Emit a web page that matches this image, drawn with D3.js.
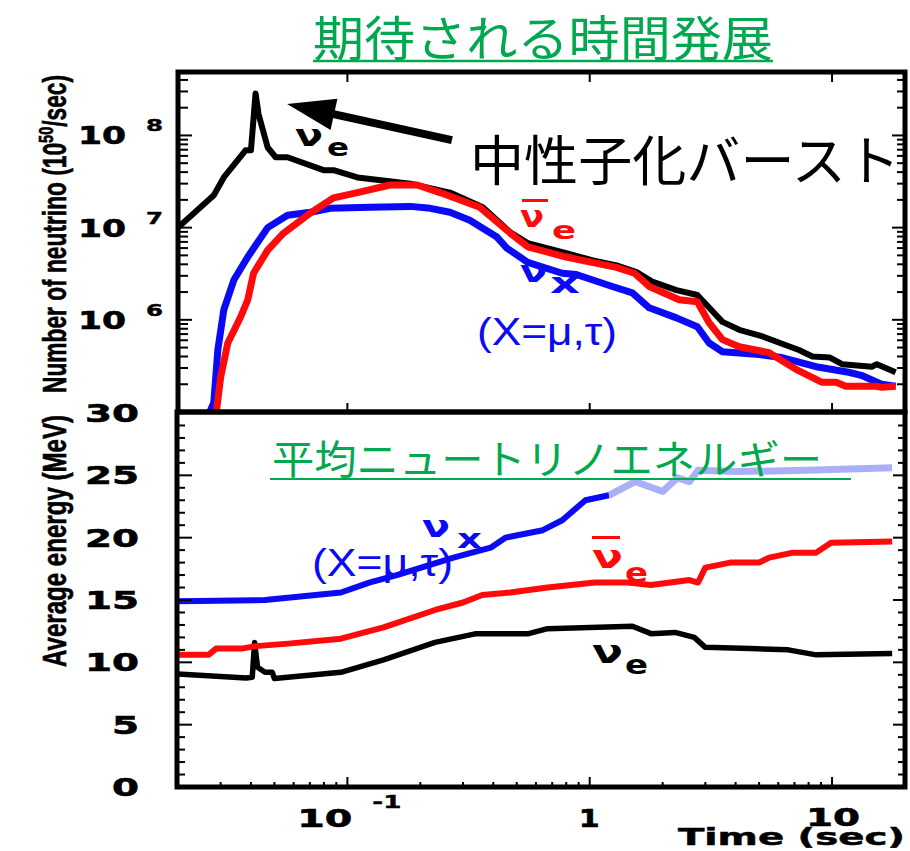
<!DOCTYPE html>
<html><head><meta charset="utf-8">
<script src="https://cdn.jsdelivr.net/npm/d3@7"></script>
<style>body{margin:0;background:#fff}</style>
</head><body><svg id="c" width="910" height="851"></svg>
<script>
// ---------------- data ----------------
// Upper panel: number luminosity (10^50 /sec) vs time (sec)
const numNueT = [0.02, 0.0281, 0.0309, 0.038, 0.040, 0.0418, 0.043, 0.0469, 0.0506, 0.0566, 0.0797, 0.0876, 0.11, 0.146, 0.182, 0.265, 0.362, 0.47, 0.555, 0.80, 1.03, 1.29, 1.56, 1.81, 2.28, 2.78, 3.53, 4.14, 5.17, 7.3, 8.3, 9.8, 11.0, 14.6, 15.3, 18.3];
const numNueV = [1.0e7, 2.24e7, 3.5e7, 6.9e7, 6.9e7, 2.85e8, 1.7e8, 7.4e7, 5.8e7, 5.8e7, 4.2e7, 4.2e7, 3.5e7, 3.2e7, 3.0e7, 2.4e7, 1.66e7, 8.9e6, 6.8e6, 5.3e6, 4.4e6, 3.9e6, 3.3e6, 2.6e6, 2.1e6, 1.86e6, 9.5e5, 7.8e5, 6.6e5, 4.7e5, 4.0e5, 3.9e5, 3.3e5, 3.1e5, 3.3e5, 2.7e5];
const numNuebT = [0.0285, 0.0300, 0.0321, 0.0363, 0.0388, 0.041, 0.0469, 0.0545, 0.0704, 0.0876, 0.11, 0.15, 0.194, 0.241, 0.352, 0.47, 0.555, 0.80, 1.29, 1.53, 1.76, 2.34, 2.78, 3.11, 3.53, 4.14, 5.5, 7.1, 9.1, 10.4, 11.4, 15.2, 16.0, 18.3];
const numNuebV = [8e4, 2.4e5, 5.6e5, 1.08e6, 1.65e6, 3.2e6, 5.7e6, 8.7e6, 1.44e7, 2.1e7, 2.4e7, 2.9e7, 2.9e7, 2.4e7, 1.66e7, 8.7e6, 6.2e6, 4.8e6, 3.7e6, 3.2e6, 2.3e6, 1.65e6, 1.57e6, 9.3e5, 6.1e5, 5.1e5, 4.4e5, 2.9e5, 2.1e5, 2.1e5, 1.9e5, 1.9e5, 1.85e5, 1.9e5];
const numNuxT = [0.0266, 0.0281, 0.0292, 0.0309, 0.034, 0.0388, 0.0469, 0.0566, 0.0704, 0.085, 0.124, 0.182, 0.22, 0.265, 0.32, 0.414, 0.455, 0.555, 0.77, 0.88, 1.24, 1.5, 1.76, 2.28, 2.78, 3.11, 3.53, 5.0, 6.2, 8.6, 11.7, 13.2, 16, 18.3];
const numNuxV = [9e4, 1.26e5, 4.7e5, 1.28e6, 2.7e6, 4.8e6, 1.0e7, 1.36e7, 1.47e7, 1.62e7, 1.66e7, 1.7e7, 1.62e7, 1.47e7, 1.2e7, 7.9e6, 6.0e6, 4.2e6, 3.2e6, 3.1e6, 2.3e6, 1.96e6, 1.35e6, 1.05e6, 8.4e5, 5.6e5, 4.5e5, 4.2e5, 3.9e5, 3.1e5, 2.7e5, 2.5e5, 2.0e5, 1.9e5];

// Lower panel: average energy (MeV) vs time (sec)
const eNuxT = [0.02, 0.0457, 0.094, 0.123, 0.16, 0.274, 0.39, 0.449, 0.64, 0.77, 0.96, 1.2];
const eNuxV = [14.9, 15.0, 15.6, 16.4, 17.0, 18.4, 19.2, 20.0, 20.6, 21.4, 23.0, 23.4];
const eNuxLateT = [1.2, 1.54, 2.0, 2.3, 2.58, 2.8, 4.0, 7.9, 17.7];
const eNuxLateV = [23.4, 24.5, 23.7, 24.8, 24.5, 25.4, 25.3, 25.4, 25.6];
const eNuebT = [0.02, 0.0268, 0.0287, 0.0366, 0.0418, 0.057, 0.094, 0.141, 0.23, 0.3, 0.36, 0.47, 0.67, 1.05, 1.43, 1.79, 2.58, 2.8, 3.0, 3.8, 5.0, 5.5, 6.9, 8.6, 9.9, 17.7];
const eNuebV = [10.6, 10.6, 11.1, 11.1, 11.3, 11.5, 11.9, 12.8, 14.2, 14.8, 15.4, 15.6, 16.0, 16.4, 16.4, 16.2, 16.6, 16.4, 17.6, 18.0, 18.0, 18.4, 18.8, 18.8, 19.6, 19.7];
const eNueT = [0.02, 0.0382, 0.0405, 0.0414, 0.0426, 0.0457, 0.049, 0.050, 0.094, 0.141, 0.23, 0.34, 0.56, 0.67, 1.5, 1.79, 2.25, 2.7, 3.0, 4.6, 6.6, 8.6, 17.7];
const eNueV = [9.06, 8.74, 8.8, 11.6, 9.6, 9.2, 9.2, 8.7, 9.2, 10.2, 11.6, 12.3, 12.3, 12.7, 12.9, 12.3, 12.4, 12.0, 11.2, 11.1, 11.0, 10.6, 10.7];

// axis tick labels
const numTickVals = [1e6, 1e7, 1e8];
const numTickExp = ["6", "7", "8"];
const eTickVals = [0, 5, 10, 15, 20, 25, 30];
const timeTickVals = [0.1, 1, 10];

// annotation anchors (data space)
const burstArrowTail = [0.270, 8.9e7];
const burstArrowTip = [0.0564, 2.19e8];

// ---------------- drawing ----------------
const svg = d3.select("#c");
svg.append("rect").attr("width", 910).attr("height", 851).attr("fill", "#fff");

const L = 178, R = 905;
const x = d3.scaleLog().domain([0.02, 20]).range([L, R]);
const yN = d3.scaleLog().domain([1e5, 5e8]).range([412, 71]);
const yE = d3.scaleLinear().domain([0, 30]).range([787, 413]);

const BLUE = "#0a0af5", RED = "#ff0a0a", GREEN = "#00a84f", FADE = "#aab0f6";

const defs = svg.append("defs");
defs.append("clipPath").attr("id", "clipTop").append("rect")
  .attr("x", L).attr("y", 72).attr("width", R - L).attr("height", 339);
defs.append("clipPath").attr("id", "clipBot").append("rect")
  .attr("x", L).attr("y", 414).attr("width", R - L).attr("height", 372);

function zip(a, b) { return a.map((v, i) => [v, b[i]]); }

function txt(g, px, py, s, o) {
  const t = g.append("text").attr("x", px).attr("y", py).text(s)
    .attr("font-family", o.f || "DejaVu Sans")
    .attr("font-size", o.s)
    .attr("font-weight", o.w || "bold")
    .attr("fill", o.c || "#000");
  if (o.len) t.attr("textLength", o.len).attr("lengthAdjust", "spacingAndGlyphs");
  if (o.a) t.attr("text-anchor", o.a);
  if (o.sw) t.attr("stroke", o.c || "#000").attr("stroke-width", o.sw);
  return t;
}

// ---- top panel lines ----
const lineN = d3.line().x(d => x(d[0])).y(d => yN(d[1]));
const gTop = svg.append("g").attr("clip-path", "url(#clipTop)");
gTop.append("path").datum(zip(numNueT, numNueV)).attr("d", lineN)
  .attr("fill", "none").attr("stroke", "#000").attr("stroke-width", 6).attr("stroke-linejoin", "round");
gTop.append("path").datum(zip(numNuxT, numNuxV)).attr("d", lineN)
  .attr("fill", "none").attr("stroke", BLUE).attr("stroke-width", 7).attr("stroke-linejoin", "round");
gTop.append("path").datum(zip(numNuebT, numNuebV)).attr("d", lineN)
  .attr("fill", "none").attr("stroke", RED).attr("stroke-width", 7).attr("stroke-linejoin", "round");

// ---- bottom panel lines ----
const lineE = d3.line().x(d => x(d[0])).y(d => yE(d[1]));
const gBot = svg.append("g").attr("clip-path", "url(#clipBot)");
gBot.append("path").datum(zip(eNueT, eNueV)).attr("d", lineE)
  .attr("fill", "none").attr("stroke", "#000").attr("stroke-width", 5.5).attr("stroke-linejoin", "round");
gBot.append("path").datum(zip(eNuebT, eNuebV)).attr("d", lineE)
  .attr("fill", "none").attr("stroke", RED).attr("stroke-width", 6).attr("stroke-linejoin", "round");
gBot.append("path").datum(zip(eNuxLateT, eNuxLateV)).attr("d", lineE)
  .attr("fill", "none").attr("stroke", FADE).attr("stroke-width", 7).attr("stroke-linejoin", "round");
gBot.append("path").datum(zip(eNuxT, eNuxV)).attr("d", lineE)
  .attr("fill", "none").attr("stroke", BLUE).attr("stroke-width", 6).attr("stroke-linejoin", "round");

// ---- frames and ticks ----
const gAx = svg.append("g").attr("stroke", "#000");
function tick(x1, y1, x2, y2, w) {
  gAx.append("line").attr("x1", x1).attr("y1", y1).attr("x2", x2).attr("y2", y2).attr("stroke-width", w || 2);
}
// top panel y ticks (log)
yN.ticks().filter(v => v > 1e5 && v < 5e8).forEach(v => {
  const major = Math.abs(Math.log10(v) - Math.round(Math.log10(v))) < 1e-9;
  const yy = yN(v);
  tick(L, yy, L + (major ? 14 : 10), yy);
  tick(R, yy, R - (major ? 13 : 8), yy);
});
// bottom panel y ticks (every 1 MeV)
d3.range(1, 30).forEach(v => {
  const major = v % 5 === 0;
  const yy = yE(v);
  tick(L, yy, L + (major ? 14 : 7), yy);
  tick(R, yy, R - (major ? 12 : 7), yy);
});
// x ticks
x.ticks().filter(v => v > 0.02 && v < 20).forEach(v => {
  const major = timeTickVals.includes(v);
  const xx = x(v);
  tick(xx, 787, xx, 787 - (major ? 10 : 5));
  if (major) {
    tick(xx, 72, xx, 82);
    tick(xx, 412, xx, 403);
  }
});
// frames
svg.append("rect").attr("x", L).attr("y", 72).attr("width", R - L).attr("height", 340)
  .attr("fill", "none").attr("stroke", "#000").attr("stroke-width", 5);
svg.append("rect").attr("x", L - 1).attr("y", 412).attr("width", R - L + 1).attr("height", 375)
  .attr("fill", "none").attr("stroke", "#000").attr("stroke-width", 5);

// ---- tick labels ----
const gT = svg.append("g");
numTickVals.forEach((v, i) => {
  const yy = yN(v);
  txt(gT, 78, yy + 9, "10", { s: 25, len: 48, sw: 0.6 });
  txt(gT, 146, yy - 4, numTickExp[i], { s: 15, len: 17, sw: 0.4 });
});
eTickVals.forEach(v => {
  const s = String(v);
  txt(gT, 139, yE(v) + 9, s, { s: 24, len: 27 * s.length, a: "end", sw: 0.6 });
});
txt(gT, x(0.1) - 50, 827, "10", { s: 25, len: 55, sw: 0.6 });
txt(gT, x(0.1) + 25, 808, "-1", { s: 17, len: 29, sw: 0.4 });
txt(gT, x(1) - 11, 827, "1", { s: 25, len: 21, sw: 0.6 });
txt(gT, x(10) - 26, 826, "10", { s: 25, len: 54, sw: 0.6 });
txt(gT, 678, 845, "Time (sec)", { s: 23, len: 227, sw: 0.5 });

// ---- axis titles ----
const t1 = svg.append("text").attr("transform", "translate(66,393) rotate(-90)")
  .attr("font-family", "Liberation Sans").attr("font-weight", "bold").attr("font-size", 33)
  .attr("stroke", "#000").attr("stroke-width", 0.6)
  .attr("textLength", 318).attr("lengthAdjust", "spacingAndGlyphs");
t1.append("tspan").text("Number of neutrino (10");
t1.append("tspan").attr("dy", -13).attr("font-size", 21).text("50");
t1.append("tspan").attr("dy", 13).text("/sec)");
svg.append("text").attr("transform", "translate(66,667) rotate(-90)")
  .attr("font-family", "Liberation Sans").attr("font-weight", "bold").attr("font-size", 33)
  .attr("stroke", "#000").attr("stroke-width", 0.6)
  .attr("textLength", 252).attr("lengthAdjust", "spacingAndGlyphs")
  .text("Average energy (MeV)");

// ---- titles ----
const JP = "Noto Sans CJK JP";
txt(svg, 313, 56, "期待される時間発展", { f: JP, w: "normal", s: 48, len: 460, c: GREEN });
svg.append("line").attr("x1", 313).attr("x2", 773).attr("y1", 61).attr("y2", 61)
  .attr("stroke", GREEN).attr("stroke-width", 2.5);
txt(svg, 272, 474, "平均ニュートリノエネルギー", { f: JP, w: "normal", s: 40, len: 550, c: GREEN });
svg.append("line").attr("x1", 270).attr("x2", 851).attr("y1", 479).attr("y2", 479)
  .attr("stroke", GREEN).attr("stroke-width", 2);

// ---- neutronization burst annotation ----
txt(svg, 470, 181, "中性子化バースト", { f: JP, w: "normal", s: 54, len: 430 });
const tailP = [x(burstArrowTail[0]), yN(burstArrowTail[1])];
const tipP = [x(burstArrowTip[0]), yN(burstArrowTip[1])];
const dx = tipP[0] - tailP[0], dy = tipP[1] - tailP[1];
const len = Math.hypot(dx, dy), ux = dx / len, uy = dy / len;
const headLen = 48, headHalf = 16;
const bx = tipP[0] - ux * headLen, by = tipP[1] - uy * headLen;
svg.append("line").attr("x1", tailP[0]).attr("y1", tailP[1]).attr("x2", bx + ux * 4).attr("y2", by + uy * 4)
  .attr("stroke", "#000").attr("stroke-width", 8);
svg.append("polygon").attr("fill", "#000").attr("points", [
  tipP, [bx - uy * headHalf, by + ux * headHalf], [bx + uy * headHalf, by - ux * headHalf]
].map(p => p.join(",")).join(" "));

// ---- series labels ----
function nuLabel(px, py, sub, col, bar, subDy, nuLen, subLen) {
  txt(svg, px, py, "ν", { s: 30, len: nuLen || 28, c: col });
  txt(svg, px + 32, py + subDy, sub, { s: 24, len: subLen || 23, c: col });
  if (bar) svg.append("rect").attr("x", px + 2).attr("y", py - 28).attr("width", 26).attr("height", 3).attr("fill", col);
}
// top panel
nuLabel(295, 146, "e", "#000", false, 10, 28, 22);
nuLabel(520, 227, "e", RED, true, 12, 24, 24);
txt(svg, 520, 282, "ν", { s: 30, len: 27, c: BLUE });
txt(svg, 550, 293, "x", { s: 28, len: 30, c: BLUE });
txt(svg, 477, 345, "(X=μ,τ)", { f: "Liberation Sans", w: "normal", s: 38, len: 140, c: BLUE });
// bottom panel
txt(svg, 422, 537, "ν", { s: 30, len: 28, c: BLUE });
txt(svg, 457, 548, "x", { s: 26, len: 25, c: BLUE });
txt(svg, 312, 576, "(X=μ,τ)", { f: "Liberation Sans", w: "normal", s: 38, len: 141, c: BLUE });
svg.append("rect").attr("x", 592).attr("y", 536).attr("width", 28).attr("height", 3).attr("fill", RED);
txt(svg, 592, 568, "ν", { s: 32, len: 31, c: RED });
txt(svg, 625, 582, "e", { s: 26, len: 23, c: RED });
txt(svg, 592, 663, "ν", { s: 32, len: 31, c: "#000" });
txt(svg, 625, 674, "e", { s: 26, len: 23, c: "#000" });
</script></body></html>
